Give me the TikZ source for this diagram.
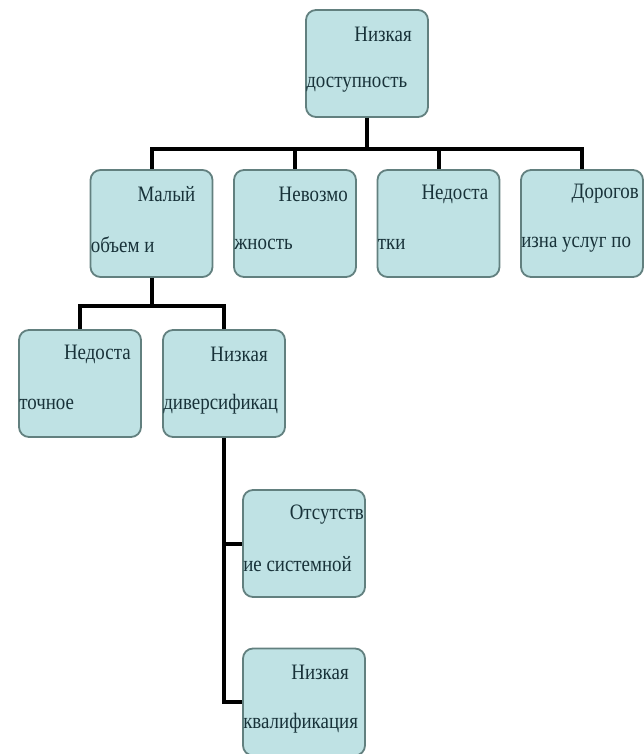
\documentclass[tikz,border=0pt]{standalone}
\usepackage{fontspec}
\setmainfont{Liberation Serif}
\newfontfamily\boxfont[FakeStretch = 0.86]{Liberation Serif}
\definecolor{boxfill}{HTML}{BFE2E4}
\definecolor{boxline}{HTML}{62807F}
\definecolor{txtcol}{HTML}{183239}

\begin{document}
\begin{tikzpicture}[x = 1pt, y = -1pt,
                    box/.style = {draw = boxline, fill = boxfill, line width = 1.8pt, rounded corners = 10pt,
                                  minimum width = 122pt, minimum height = 107pt},
                    upline/.style = {anchor = east, xshift = -#1, yshift = -25pt, inner sep = 0pt,
                                     text = txtcol, font = \boxfont\fontsize{22}{22}\selectfont},
                    lowline/.style = {anchor = west, xshift = 1pt, yshift = -21pt, inner sep = 0pt,
                                      text = txtcol, font = \boxfont\fontsize{22}{22}\selectfont},
                    conn/.style = {line width = 4pt}]
  \useasboundingbox (0, 0) rectangle (643, 754);

  \node [box, label = {[upline = 17pt]north east:Низкая}, label = {[lowline]west:доступность}] (root) at (367, 63.5) {};

  \node [box, label = {[upline = 18pt]north east:Малый}, label = {[lowline]west:объем и}] (small) at (151.5, 223.5) {};
  \node [box, label = {[upline = 9pt]north east:Невозмо}, label = {[lowline]west:жность}] (imposs) at (295, 223.5) {};
  \node [box, label = {[upline = 12pt]north east:Недоста}, label = {[lowline]west:тки}] (lacks) at (438.5, 223.5) {};
  \node [box, label = {[upline = 5pt]north east:Дорогов}, label = {[lowline]west:изна услуг по}] (costly) at (582, 223.5) {};

  \node [box, label = {[upline = 11pt]north east:Недоста}, label = {[lowline]west:точное}] (insuff) at (80, 383.5) {};
  \node [box, label = {[upline = 18pt]north east:Низкая}, label = {[lowline]west:диверсификац}] (divers) at (224, 383.5) {};

  \node [box, label = {[upline = 2pt]north east:Отсутств}, label = {[lowline]west:ие системной}] (absent) at (304, 543.5) {};
  \node [box, label = {[upline = 17pt]north east:Низкая}, label = {[lowline]west:квалификация}] (qualif) at (304, 702) {};

  \draw [conn] (root.south) -- ++(0, 31) -| (small.north);
  \draw [conn] (root.south) -- ++(0, 31) -| (imposs.north);
  \draw [conn] (root.south) -- ++(0, 31) -| (lacks.north);
  \draw [conn] (root.south) -- ++(0, 31) -| (costly.north);

  \draw [conn] (small.south) -- ++(0, 28) -| (insuff.north);
  \draw [conn] (small.south) -- ++(0, 28) -| (divers.north);

  \draw [conn] (divers.south) |- (absent.west);
  \draw [conn] (divers.south) |- (qualif.west);
\end{tikzpicture}
\end{document}
